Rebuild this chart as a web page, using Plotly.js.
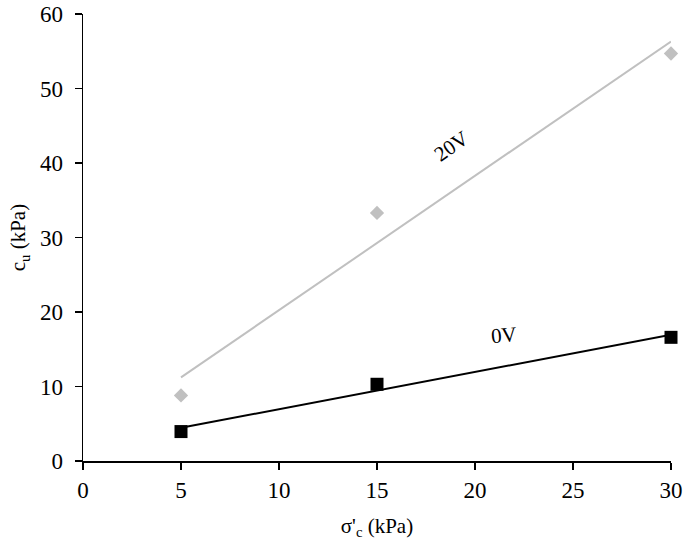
<!DOCTYPE html>
<html>
<head>
<meta charset="utf-8">
<script src="https://cdn.plot.ly/plotly-3.0.1.min.js"></script>
<style>html,body{margin:0;padding:0;background:#fff;}#chart{width:685px;height:543px;}</style>
</head>
<body>
<div id="chart"></div>
<script>
const stress = [5, 15, 30];
const cu20V = [8.8, 33.3, 54.7];
const cu0V = [3.95, 10.3, 16.6];
const xTicks = [0, 5, 10, 15, 20, 25, 30];
const yTicks = [0, 10, 20, 30, 40, 50, 60];

function fit(xs, ys) {
  const n = xs.length;
  const mx = xs.reduce((a, b) => a + b, 0) / n;
  const my = ys.reduce((a, b) => a + b, 0) / n;
  let sxy = 0, sxx = 0;
  for (let i = 0; i < n; i++) { sxy += (xs[i] - mx) * (ys[i] - my); sxx += (xs[i] - mx) ** 2; }
  const m = sxy / sxx, b = my - m * mx;
  const x0 = Math.min(...xs), x1 = Math.max(...xs);
  return { x: [x0, x1], y: [m * x0 + b, m * x1 + b] };
}
const f20 = fit(stress, cu20V);
const f0 = fit(stress, cu0V);

const grey = '#c0c0c0';

const data = [
  { x: f20.x, y: f20.y, mode: 'lines', line: { color: grey, width: 2 }, showlegend: false, hoverinfo: 'skip' },
  { x: f0.x, y: f0.y, mode: 'lines', line: { color: '#000', width: 2 }, showlegend: false, hoverinfo: 'skip' },
  { x: stress, y: cu20V, mode: 'markers', marker: { symbol: 'diamond', size: 11, color: grey }, cliponaxis: false, showlegend: false },
  { x: stress, y: cu0V, mode: 'markers', marker: { symbol: 'square', size: 13, color: '#000' }, cliponaxis: false, showlegend: false }
];

const layout = {
  width: 685, height: 543,
  margin: { l: 83, r: 14, t: 14, b: 82 },
  paper_bgcolor: '#fff', plot_bgcolor: '#fff',
  font: { family: 'Liberation Serif', color: '#000', size: 21 },
  showlegend: false,
  xaxis: {
    range: [0, 30], tickvals: xTicks, ticktext: xTicks.map(String),
    showgrid: false, zeroline: false, showline: true, linecolor: '#000', linewidth: 1.5,
    ticks: 'outside', ticklen: 7, tickwidth: 1.5, tickcolor: '#000', ticklabelstandoff: 1,
    tickfont: { family: 'Liberation Serif', color: '#000', size: 23 },
    title: { text: "σ'<sub>c</sub> (kPa)", font: { family: 'Liberation Serif', color: '#000', size: 21 }, standoff: 16 }
  },
  yaxis: {
    range: [0, 60], tickvals: yTicks, ticktext: yTicks.map(String),
    showgrid: false, zeroline: false, showline: true, linecolor: '#000', linewidth: 1.5,
    ticks: 'outside', ticklen: 7, tickwidth: 1.5, tickcolor: '#000', ticklabelstandoff: 7,
    tickfont: { family: 'Liberation Serif', color: '#000', size: 23 },
    title: { text: 'c<sub>u</sub> (kPa)', font: { family: 'Liberation Serif', color: '#000', size: 21 }, standoff: 8 }
  },
  annotations: [
    { x: 18.8, y: 42.3, text: '20V', showarrow: false, textangle: -35, font: { family: 'Liberation Serif', color: '#000', size: 21 } },
    { x: 21.5, y: 16.9, text: '0V', showarrow: false, textangle: -5, font: { family: 'Liberation Serif', color: '#000', size: 21 } }
  ]
};

Plotly.newPlot('chart', data, layout, { displayModeBar: false, staticPlot: true });
</script>
</body>
</html>
